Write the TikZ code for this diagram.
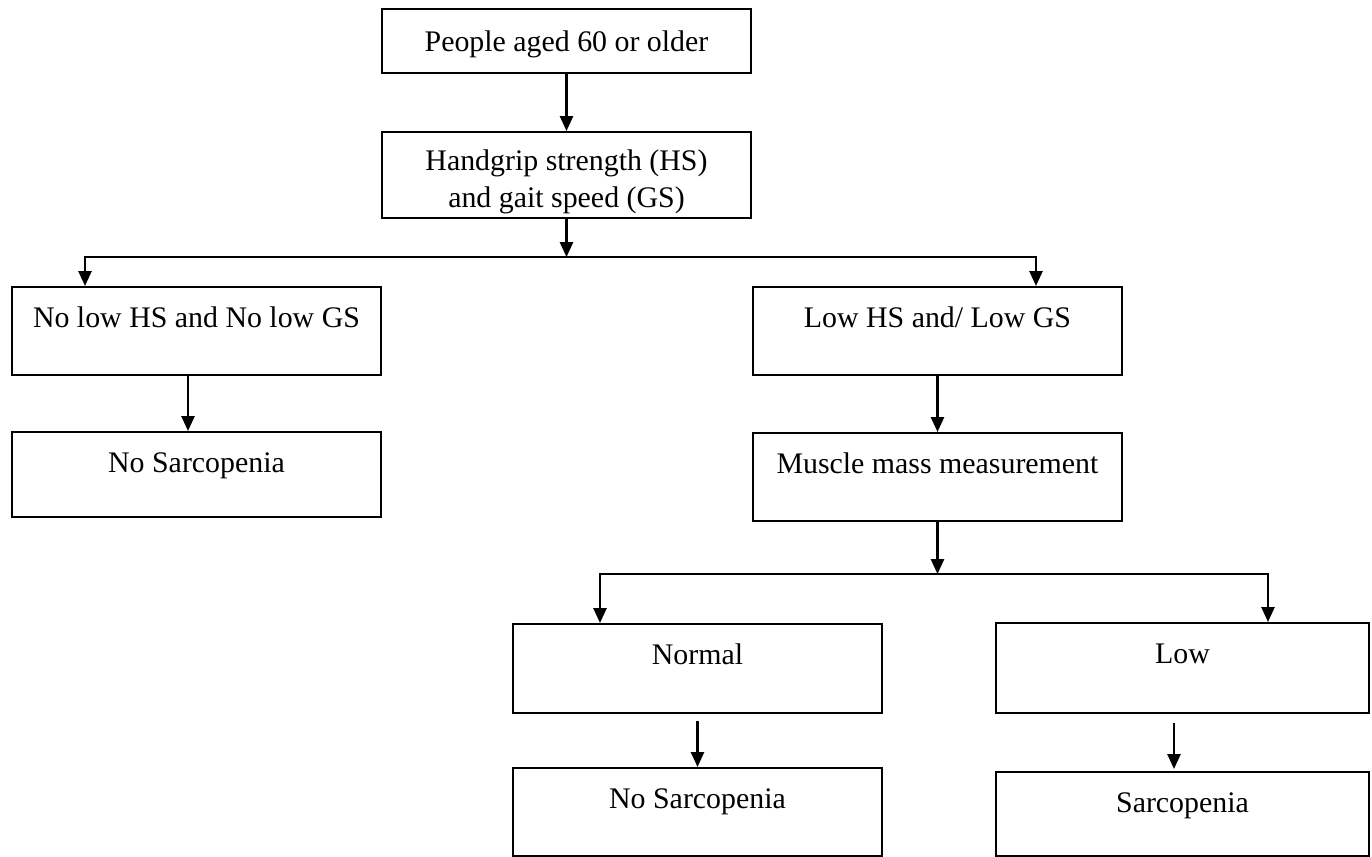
\documentclass[tikz,border=0pt]{standalone}
\usepackage{fontspec}
\setmainfont{Liberation Serif}
\usetikzlibrary{arrows.meta,positioning}

\begin{document}
\begin{tikzpicture}[>={Triangle[length=8.5pt,width=7.5pt]},
  box/.style={draw,line width=1.2pt,minimum width=7.38cm,inner sep=0pt,
    font=\fontsize{17}{20.5}\selectfont,align=center},
  topbox/.style={box,text height=0.8cm,text depth=#1},
  topbox/.default=0.96cm,
  link/.style={line width=1.2pt,->}]
  \useasboundingbox (0,0) rectangle (27.44,-17.14);
  \node[box,text height=0.84cm,text depth=0.44cm] (old) at (11.33,-0.82) {People aged 60 or older};
  \node[box,text height=1.50cm,text depth=0.22cm] (hsgs) at (11.33,-3.50) {Handgrip strength (HS)\\and gait speed (GS)};
  \node[topbox] (nolow) at (3.93,-6.62) {No low HS and No low GS};
  \node[topbox=0.90cm] (nosarcA) at (3.93,-9.49) {No Sarcopenia};
  \node[topbox] (lowhsgs) at (18.75,-6.62) {Low HS and/ Low GS};
  \node[topbox] (mass) at (18.75,-9.54) {Muscle mass measurement};
  \node[topbox=0.98cm] (normal) at (13.95,-13.37) {Normal};
  \node[topbox] (nosarcB) at (13.95,-16.24) {No Sarcopenia};
  \node[topbox=1.0cm,minimum width=7.46cm] (lowmm) at (23.65,-13.36) {Low};
  \node[topbox=0.88cm,minimum width=7.46cm] (sarc) at (23.65,-16.28) {Sarcopenia};
  \coordinate (splitA) at (11.33,-5.14);
  \coordinate (leftA) at (1.70,-5.14);
  \coordinate (rightA) at (20.72,-5.14);
  \coordinate (splitB) at (18.75,-11.48);
  \coordinate (leftB) at (12.00,-11.48);
  \coordinate (rightB) at (25.36,-11.48);
  \draw[link] (old) -- (hsgs);
  \draw[link] (hsgs) -- (splitA);
  \draw[link] (splitA) -| (leftA |- nolow.north);
  \draw[link] (splitA) -| (rightA |- lowhsgs.north);
  \draw[link] ([xshift=-0.17cm]nolow.south) -- ([xshift=-0.17cm]nosarcA.north);
  \draw[link] (lowhsgs) -- (mass);
  \draw[link] (mass) -- (splitB);
  \draw[link] (splitB) -| (leftB |- normal.north);
  \draw[link] (splitB) -| (rightB |- lowmm.north);
  \draw[link] ([yshift=-0.14cm]normal.south) -- (nosarcB.north);
  \draw[link,shorten >=0.04cm] ([xshift=-0.17cm,yshift=-0.18cm]lowmm.south) -- ([xshift=-0.17cm]sarc.north);
\end{tikzpicture}
\end{document}
